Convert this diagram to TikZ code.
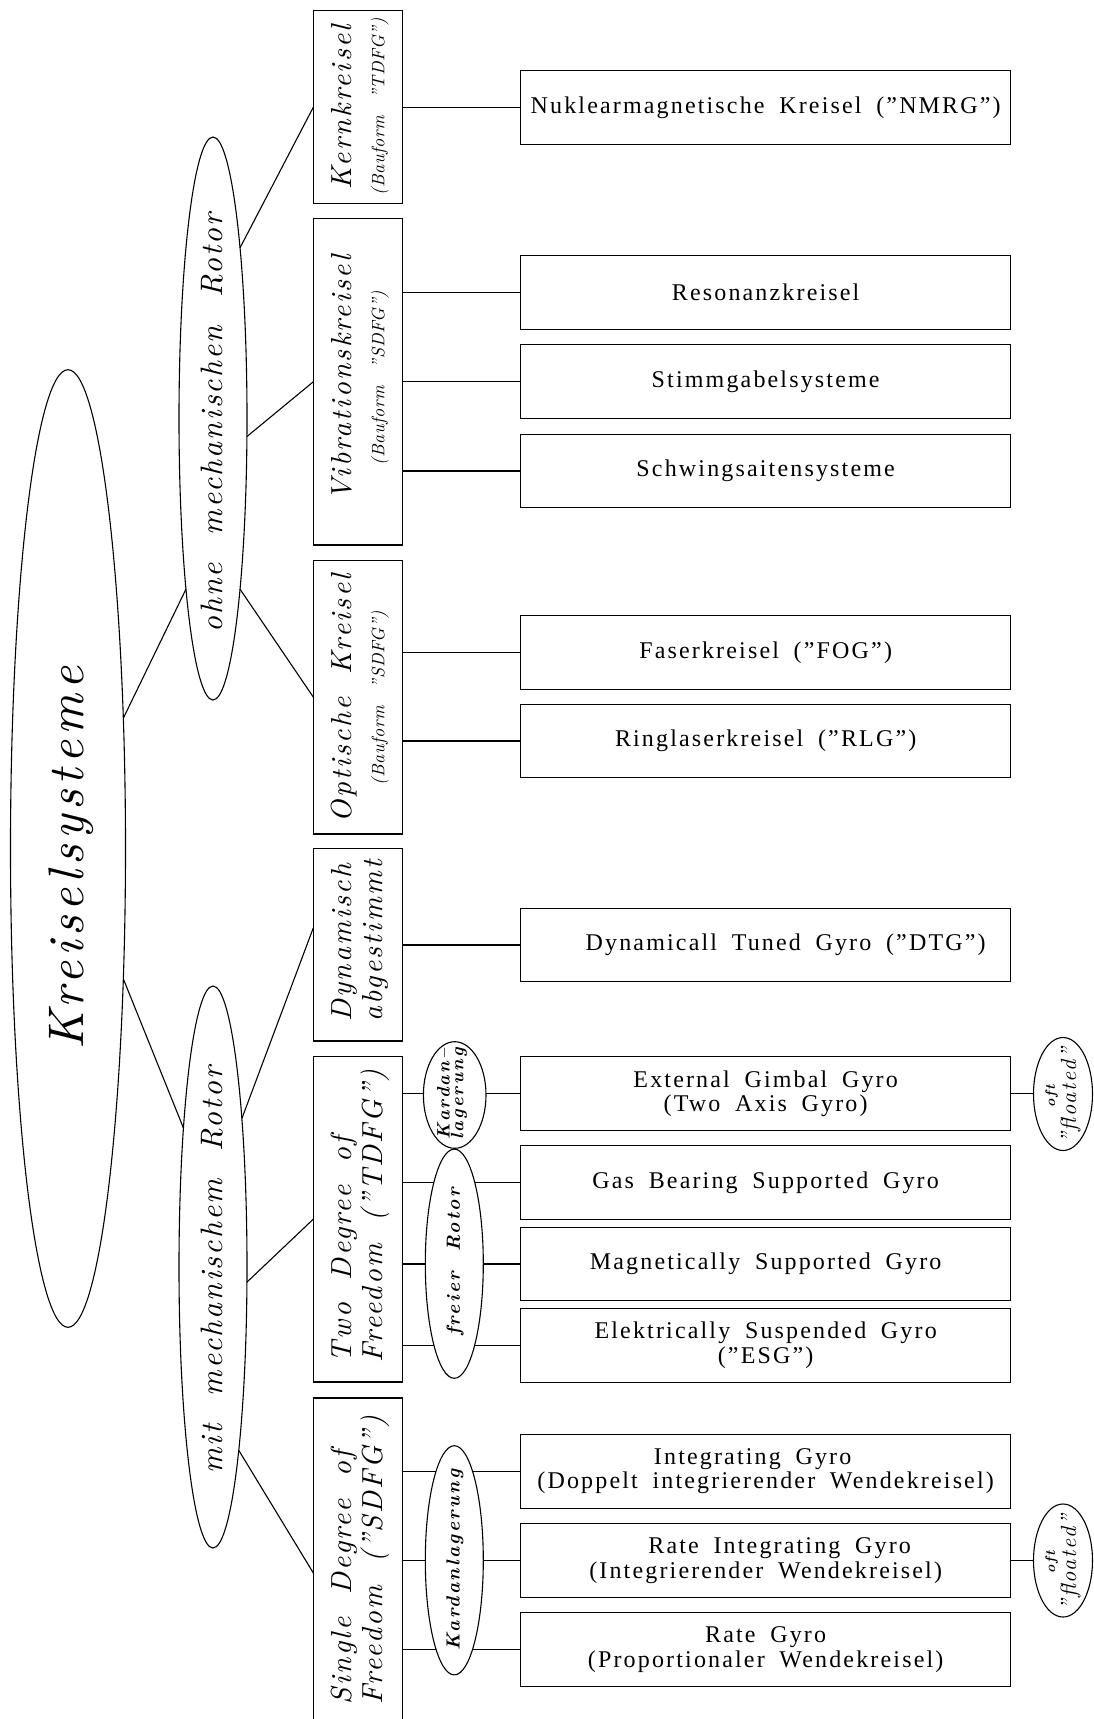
\documentclass[tikz,border=0pt]{standalone}
\usepackage{fontspec}
\usetikzlibrary{shapes.geometric,calc}
\setmainfont{Liberation Serif}
% fonts for the boxes, the rotated headings and the small ellipse labels
\newfontfamily\itemfont{Liberation Serif}[LetterSpace=9, WordSpace=1.8]
\newfontfamily\catfont{lmroman10-italic.otf}[LetterSpace=8, WordSpace=1.8]
\newfontfamily\subfont{lmroman10-italic.otf}[LetterSpace=3, WordSpace=2.5]
\newfontfamily\rotorfont{lmroman10-italic.otf}[LetterSpace=7, WordSpace=2.1]
\newfontfamily\titlefont{lmroman10-italic.otf}[LetterSpace=10]
\newfontfamily\ellfont{lmroman10-bolditalic.otf}[LetterSpace=12, WordSpace=2]

\begin{document}
\begin{tikzpicture}[x=1pt, y=-1pt,
  conn/.style={line width=1.1pt},
  catbox/.style={draw, line width=1.1pt, minimum width=89pt, inner sep=0pt, outer sep=0pt},
  itembox/.style={draw, line width=1.1pt, minimum width=489.7pt, minimum height=73.8pt,
    inner sep=0pt, outer sep=0pt, align=center, font=\itemfont\fontsize{24}{24.5}\selectfont},
  oval/.style={ellipse, draw, line width=1.1pt, inner sep=0pt, outer sep=0pt, fill=white},
  catlabel/.style={rotate=90, inner sep=0pt, align=center, font=\catfont\fontsize{29}{33}\selectfont},
  freelabel/.style={rotate=90, inner sep=0pt, align=left, font=\catfont\fontsize{29}{31}\selectfont},
  rotorlabel/.style={rotate=90, inner sep=0pt, font=\rotorfont\fontsize{31}{33}\selectfont},
  smalllabel/.style={rotate=90, inner sep=0pt, align=center, font=\ellfont\fontsize{18}{12}\selectfont},
  oftlabel/.style={rotate=90, inner sep=0pt, align=center, font=\catfont\fontsize{22}{21}\selectfont}
]
\useasboundingbox (0,0) rectangle (1094,1719);
\clip (0,0) rectangle (1094,1719);
\fill[white] (0,0) rectangle (1094,1719);

% second-level category boxes
\node[catbox, minimum height=192.9pt] (kern) at (357.85,107.15) {};
\node[catbox, minimum height=326.5pt] (vibr) at (357.85,381.75) {};
\node[catbox, minimum height=273.7pt] (opt)  at (357.85,697.15) {};
\node[catbox, minimum height=192.5pt] (dyn)  at (357.85,944.75) {};
\node[catbox, minimum height=325.8pt] (tdfg) at (357.85,1219.1) {};
\node[catbox, minimum height=350pt]   (sdfg) at (357.85,1573) {};

\node[catlabel] (kernlab) at (360,107) {Kernkreisel\\{\subfont\fontsize{18}{20}\selectfont (Bauform ”TDFG”)}};
\node[catlabel] (vibrlab) at (360,378) {Vibrationskreisel\\{\subfont\fontsize{18}{20}\selectfont (Bauform ”SDFG”)}};
\node[catlabel] (optlab)  at (360,698) {Optische Kreisel\\{\subfont\fontsize{18}{20}\selectfont (Bauform ”SDFG”)}};
\node[freelabel] (dynlab)  at (360,941) {Dynamisch\\abgestimmt};
\node[freelabel] (tdfglab) at (360,1216) {Two Degree of\\Freedom (”TDFG”)};
\node[freelabel] (sdfglab) at (360,1560) {Single Degree of\\Freedom (”SDFG”)};

% gyro types
\node[itembox] (nmrg)    at (765.65,107.6)  {Nuklearmagnetische Kreisel (”NMRG”)};
\node[itembox] (reson)   at (765.65,292.4)  {Resonanzkreisel};
\node[itembox] (stimm)   at (765.65,381.8)  {Stimmgabelsysteme};
\node[itembox] (schwing) at (765.65,471)    {Schwingsaitensysteme};
\node[itembox] (faser)   at (765.65,652.5)  {Faserkreisel (”FOG”)};
\node[itembox] (ring)    at (765.65,741)    {Ringlaserkreisel (”RLG”)};
\node[itembox] (dtg)     at (765.65,945)    {\hspace*{40pt}Dynamicall Tuned Gyro (”DTG”)};
\node[itembox] (egg)     at (765.65,1093.5) {External Gimbal Gyro\\(Two Axis Gyro)};
\node[itembox] (gbsg)    at (765.65,1182.5) {Gas Bearing Supported Gyro};
\node[itembox] (msg)     at (765.65,1264)   {Magnetically Supported Gyro};
\node[itembox] (esg)     at (765.65,1345.3) {Elektrically Suspended Gyro\\(”ESG”)};
\node[itembox] (ig)      at (765.65,1471.3) {Integrating Gyro\hspace*{26pt}\\(Doppelt integrierender Wendekreisel)};
\node[itembox] (rig)     at (765.65,1560.5) {\hspace*{28pt}Rate Integrating Gyro\\(Integrierender Wendekreisel)};
\node[itembox] (rg)      at (765.65,1649.7) {Rate Gyro\\(Proportionaler Wendekreisel)};

% connectors from categories to gyro types
\draw[conn] (kern.east |- nmrg.west) -- (nmrg.west);
\foreach \t in {reson,stimm,schwing} \draw[conn] (vibr.east |- \t.west) -- (\t.west);
\foreach \t in {faser,ring} \draw[conn] (opt.east |- \t.west) -- (\t.west);
\draw[conn] (dyn.east |- dtg.west) -- (dtg.west);
\foreach \t in {egg,gbsg,msg,esg} \draw[conn] (tdfg.east |- \t.west) -- (\t.west);
\foreach \t in {ig,rig,rg} \draw[conn] (sdfg.east |- \t.west) -- (\t.west);

% bearing ellipses sitting on the connectors
\node[oval, minimum width=62.6pt, minimum height=106.6pt] (kard1) at (454.7,1095) {};
\node[smalllabel] (kard1lab) at (452,1094) {Kardan–\\lagerung};
\node[oval, minimum width=58pt, minimum height=229.2pt] (freier) at (454.3,1263.7) {};
\node[smalllabel, font=\ellfont\fontsize{19}{19}\selectfont] (freierlab) at (455,1262) {freier Rotor};
\node[oval, minimum width=58pt, minimum height=229.2pt] (kard2) at (454.3,1560.3) {};
\node[smalllabel, font=\ellfont\fontsize{19}{19}\selectfont] (kard2lab) at (455,1560) {Kardanlagerung};

% "oft floated" remarks
\node[oval, minimum width=59pt, minimum height=113pt] (oft1) at (1063,1094) {};
\node[oftlabel] (oft1lab) at (1063,1096) {{\ellfont\fontsize{14}{14}\selectfont oft}\\”floated”};
\node[oval, minimum width=59pt, minimum height=113pt] (oft2) at (1063,1560.5) {};
\node[oftlabel] (oft2lab) at (1063,1562.5) {{\ellfont\fontsize{14}{14}\selectfont oft}\\”floated”};
\draw[conn] (egg.east) -- (egg.east -| oft1.west);
\draw[conn] (rig.east) -- (rig.east -| oft2.west);

% root and rotor ellipses
\node[oval, minimum width=115pt, minimum height=957.6pt] (root) at (68,848.5) {};
\node[rotate=90, inner sep=0pt, font=\titlefont\fontsize{50}{55}\selectfont] (rootlab) at (71.4,858) {Kreiselsysteme};
\node[oval, minimum width=68pt, minimum height=563pt] (ohne) at (213,418.5) {};
\node[rotorlabel] (ohnelab) at (211.6,423) {ohne mechanischen Rotor};
\node[oval, minimum width=68pt, minimum height=562pt] (mit) at (213,1267) {};
\node[rotorlabel] (mitlab) at (212,1270) {mit mechanischem Rotor};

\draw[conn] (root.67.95) -- (ohne.261.06);
\draw[conn] (root.-67.77) -- (mit.102.2);
\draw[conn] (ohne.81.56) -- (kern.west);
\draw[conn] (ohne.-28) -- (vibr.west);
\draw[conn] (ohne.-81.56) -- (opt.west);
\draw[conn] (mit.79.2) -- ($(dyn.west)+(0,-17)$);
\draw[conn] (mit.-24) -- (tdfg.west);
\draw[conn] (mit.-82.3) -- (sdfg.west);
\end{tikzpicture}
\end{document}
